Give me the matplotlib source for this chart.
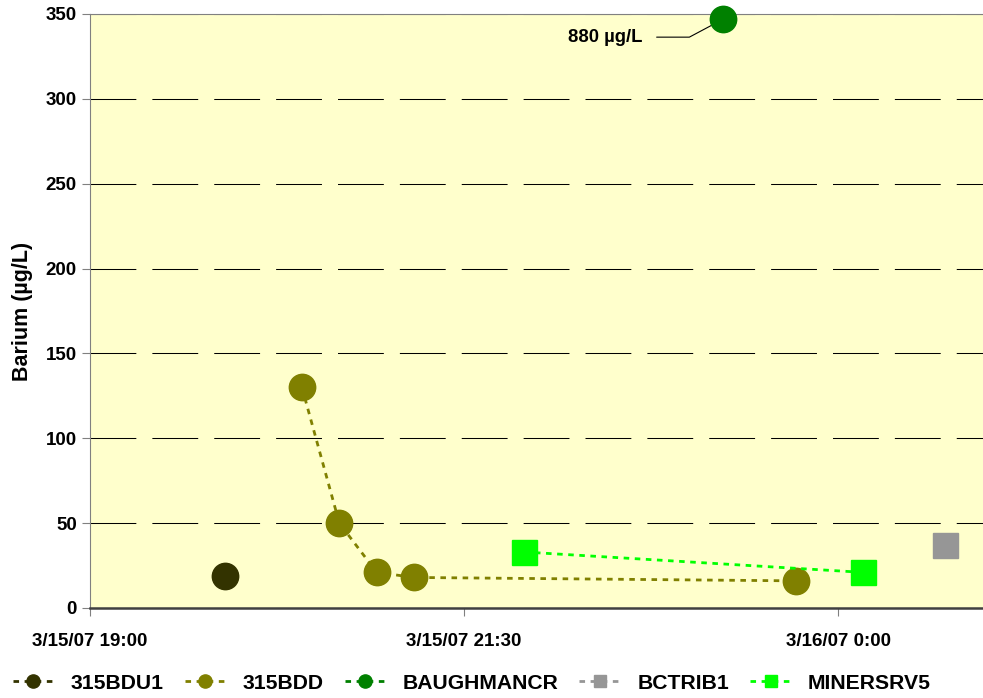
import datetime as dt
import matplotlib
matplotlib.use('Agg')
import matplotlib.pyplot as plt
import matplotlib.dates as mdates

plt.rcParams['font.family'] = ['Liberation Sans', 'DejaVu Sans']
plt.rcParams['font.weight'] = 'bold'

def t(day, hh, mm):
    return dt.datetime(2007, 3, day, hh, mm)

# data
bdu1_t = [t(15, 19, 54)]
bdu1_v = [19]

bdd_t = [t(15, 20, 25), t(15, 20, 40), t(15, 20, 55), t(15, 21, 10), t(15, 23, 43)]
bdd_v = [130, 50, 21, 18, 16]

baugh_t = [t(15, 23, 14)]
baugh_v = [347]  # really 880, drawn at top of axis

btrib_t = [t(16, 0, 43)]
btrib_v = [37]

miners_t = [t(15, 21, 54), t(16, 0, 10)]
miners_v = [33, 21]

xticks = [t(15, 19, 0), t(15, 21, 30), t(16, 0, 0)]
yticks = [0, 50, 100, 150, 200, 250, 300, 350]

fig = plt.figure(figsize=(9.83, 6.98), dpi=100)
ax = fig.add_axes([90/983, 90/698, 897.6/983, 594/698])
ax.set_facecolor('#FFFFCC')

ms = 19
ax.plot(bdu1_t, bdu1_v, ls=(0, (2, 2)), lw=2, color='#333300', marker='o', ms=ms, label='315BDU1')
ax.plot(bdd_t, bdd_v, ls=(0, (2, 2)), lw=2, color='#808000', marker='o', ms=ms, label='315BDD')
ax.plot(baugh_t, baugh_v, ls=(0, (2, 2)), lw=2, color='#008000', marker='o', ms=ms, label='BAUGHMANCR', clip_on=False, zorder=5)
ax.plot(btrib_t, btrib_v, ls=(0, (2, 2)), lw=2, color='#969696', marker='s', ms=18, label='BCTRIB1')
ax.plot(miners_t, miners_v, ls=(0, (2, 2)), lw=2, color='#00FF00', marker='s', ms=18, label='MINERSRV5')

ax.annotate('880 µg/L', xy=(baugh_t[0], baugh_v[0]), xytext=(-58, -13), textcoords='offset points',
            ha='right', va='center', fontsize=13.3, fontweight='bold',
            arrowprops=dict(arrowstyle='-', color='black', lw=0.8, shrinkA=8, shrinkB=0,
                            connectionstyle='angle,angleA=0,angleB=28,rad=0'))

ax.set_xlim(t(15, 19, 0), t(16, 1, 0))
ax.set_ylim(0, 350)
ax.set_xticks(xticks)
ax.xaxis.set_major_formatter(mdates.DateFormatter('%-m/%d/%y %-H:%M'))
ax.set_yticks(yticks)
ax.tick_params(labelsize=13.5, length=6, color='#808080')
ax.tick_params(axis='x', pad=12)
for lbl in ax.get_xticklabels() + ax.get_yticklabels():
    lbl.set_fontweight('bold')

ax.yaxis.grid(True, color='black', lw=0.75, ls=(0, (44, 15.4)))
ax.set_axisbelow(True)
ax.spines['right'].set_visible(False)
ax.spines['top'].set_color('#808080')
ax.spines['left'].set_color('#808080')
ax.spines['bottom'].set_color('#404040')
ax.spines['bottom'].set_linewidth(1.8)

ax.set_ylabel('Barium (µg/L)', fontsize=15.5, fontweight='bold', labelpad=9)

fig.legend(loc='center', bbox_to_anchor=(0.48, 0.021), ncol=5, frameon=False,
           prop=dict(size=15.2, weight='bold'), markerscale=0.5, handlelength=1.97,
           columnspacing=1.0, handletextpad=0.77)

fig.savefig('out.png', dpi=100)
